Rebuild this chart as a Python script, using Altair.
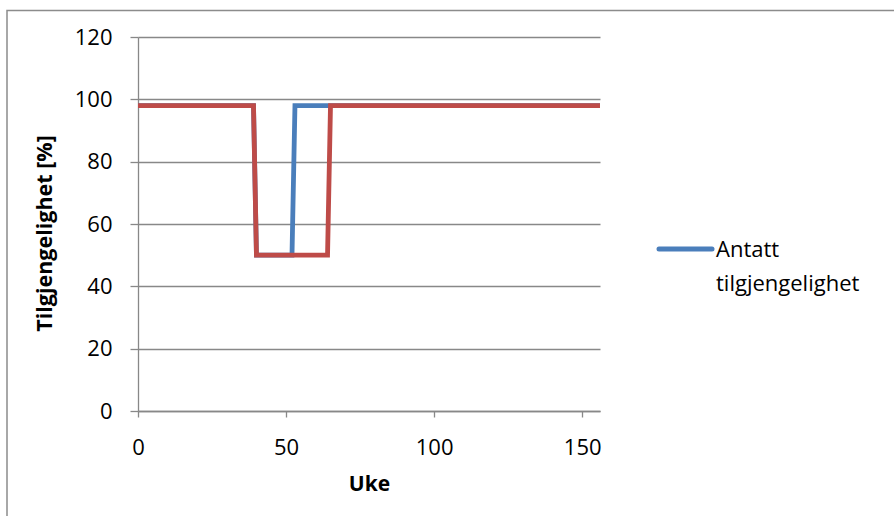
import altair as alt
import pandas as pd

# Data
weeks_blue = [0, 39, 40, 52, 53, 156]
vals_blue = [98, 98, 50, 50, 98, 98]
weeks_red = [0, 39, 40, 64, 65, 156]
vals_red = [98, 98, 50, 50, 98, 98]
series_names = ["Antatt tilgjengelighet", "Faktisk tilgjengelighet"]
series_colors = ["#4A7EBB", "#BE4B48"]
x_ticks = [0, 50, 100, 150]
y_ticks = [0, 20, 40, 60, 80, 100, 120]

df_blue = pd.DataFrame({"Uke": weeks_blue, "val": vals_blue, "serie": series_names[0]})
df_red = pd.DataFrame({"Uke": weeks_red, "val": vals_red, "serie": series_names[1]})
df_leg = pd.DataFrame({"serie": [series_names[0]]})

FONT = "Open Sans"
W, H = 462, 374
PL, PT = 138, 37

color = alt.Color(
    "serie:N",
    scale=alt.Scale(domain=series_names, range=series_colors),
    legend=None,
)

x = alt.X(
    "Uke:Q",
    scale=alt.Scale(domain=[0, 156], nice=False),
    axis=alt.Axis(
        values=x_ticks,
        title="Uke",
        grid=False,
        domainColor="#888888",
        domainWidth=1.3,
        tickColor="#888888",
        tickWidth=1.3,
        tickSize=6,
        labelPadding=20,
        labelFont=FONT,
        labelFontSize=22,
        labelColor="#000000",
        titleFont=FONT,
        titleFontSize=21,
        titleFontWeight="bold",
        titleColor="#000000",
        titlePadding=15,
        labelFlush=False,
    ),
)
y = alt.Y(
    "val:Q",
    scale=alt.Scale(domain=[0, 120], nice=False),
    axis=alt.Axis(
        values=y_ticks,
        title="Tilgjengelighet [%]",
        grid=True,
        gridColor="#888888",
        gridWidth=1.3,
        domainColor="#888888",
        domainWidth=1.3,
        tickColor="#888888",
        tickWidth=1.3,
        tickSize=8,
        labelPadding=18,
        labelFont=FONT,
        labelFontSize=22,
        labelColor="#000000",
        titleFont=FONT,
        titleFontSize=21.5,
        titleFontWeight="bold",
        titleColor="#000000",
        titlePadding=18,
        titleY=196,
    ),
)

blue = alt.Chart(df_blue).mark_line(strokeWidth=4.8, strokeJoin="miter").encode(x=x, y=y, color=color)
red = alt.Chart(df_red).mark_line(strokeWidth=4.8, strokeJoin="miter").encode(x=x, y=y, color=color)

# manual legend (only the first series is listed, as in the reference)
leg_line = alt.Chart(df_leg).mark_rule(strokeWidth=5, strokeCap="round", clip=False).encode(
    x=alt.value(521), x2=alt.value(574), y=alt.value(212),
    color=color,
)
leg_text = alt.Chart(df_leg).mark_text(
    align="left", baseline="middle", font=FONT, fontSize=22, color="#000000",
    lineBreak=" ", lineHeight=34, clip=False,
).encode(x=alt.value(578), y=alt.value(213), text="serie:N")

border = alt.Chart(pd.DataFrame({"a": [0]})).mark_rect(
    filled=False, stroke="#8c8c8c", strokeWidth=1.5, clip=False
).encode(
    x=alt.value(7 - PL), x2=alt.value(910 - PL),
    y=alt.value(10.5 - PT), y2=alt.value(540 - PT),
)

chart = alt.layer(border, blue, red, leg_line, leg_text).properties(
    width=W,
    height=H,
    padding={"left": PL, "top": PT, "right": 894 - PL - W, "bottom": 516 - PT - H},
    autosize=alt.AutoSizeParams(type="none"),
    background="white",
).configure_view(stroke=None)

chart.save("out.html", embed_options={"renderer": "svg", "actions": False})
